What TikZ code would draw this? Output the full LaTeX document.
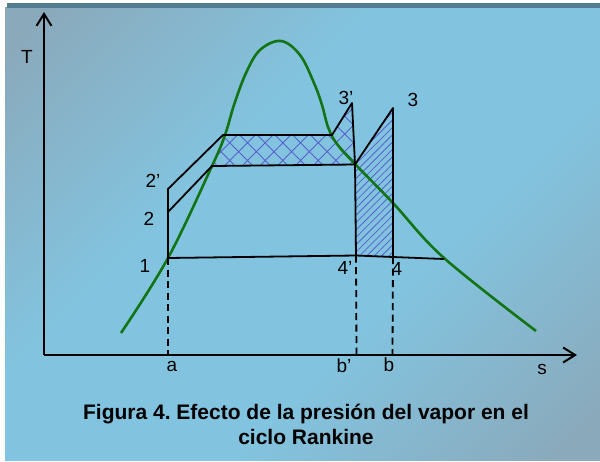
\documentclass[tikz,border=0pt]{standalone}
\usepackage{fontspec}
\setmainfont{Liberation Sans}
\usetikzlibrary{arrows.meta,patterns.meta}
\definecolor{bgGray}{RGB}{138,170,188}
\definecolor{bgBlue}{RGB}{130,196,224}
\definecolor{bandDark}{RGB}{82,124,145}
\definecolor{domeGreen}{RGB}{18,116,18}
\definecolor{hatchBlue}{RGB}{88,96,205}
\pgfdeclareverticalshading{bgshade}{100bp}{color(0bp)=(bgGray); color(18bp)=(bgGray); color(40bp)=(bgBlue); color(60bp)=(bgBlue); color(82bp)=(bgGray); color(100bp)=(bgGray)}
\frenchspacing
\begin{document}
\begin{tikzpicture}[x=1pt, y=-1pt,
        cycleline/.style={draw, line width=1.8pt, line join=round},
        dome/.style={draw=domeGreen, line width=2.6pt},
        axis/.style={draw, line width=2pt, -{Straight Barb[length=12pt, width=15pt]}},
        proj/.style={draw, line width=1.8pt, dash pattern=on 7pt off 4.5pt},
        lbl/.style={font=\fontsize{19}{21}\selectfont},
        every node/.style={inner sep=0pt}]
    \useasboundingbox (0,0) rectangle (600,461);
    % background
    \fill[white] (0,0) rectangle (600,461);
    \shade[shading=bgshade, shading angle=45] (5,7) rectangle (600,460);
    \fill[bandDark] (7,3) rectangle (600,7.5);

    % state points
    \coordinate (o) at (44,355);
    \coordinate (tend) at (44,12);
    \coordinate (send) at (577,355);
    \coordinate (p1) at (168,258);
    \coordinate (p2) at (168,212);
    \coordinate (p2p) at (168,189);
    \coordinate (liq) at (212,166);
    \coordinate (liqp) at (223,135);
    \coordinate (vapp) at (332,135);
    \coordinate (p3p) at (352,103);
    \coordinate (vap) at (355,164.5);
    \coordinate (p3) at (393,108);
    \coordinate (p4p) at (356,255.5);
    \coordinate (p4) at (393,257);
    \coordinate (cond) at (444,259);
    \coordinate (sa) at (168,355);
    \coordinate (sbp) at (356.5,355);
    \coordinate (sb) at (392.5,355);

    % hatched areas
    \path[pattern={Hatch[angle=45, distance=12.5pt, line width=0.9pt]}, pattern color=hatchBlue]
        (liq) -- (liqp) -- (vapp) -- (p3p) -- (vap) -- cycle;
    \path[pattern={Lines[angle=45, distance=5.2pt, line width=0.8pt]}, pattern color=hatchBlue]
        (vap) -- (p3) -- (p4) -- (p4p) -- cycle;

    % saturation dome
    \draw[dome] plot[smooth, tension=0.6] coordinates {(121,333) (168,258) (212,166)
        (225,135) (234,105) (246,73) (260,50) (281,41) (300,55)
        (314,83) (322,105) (328,127) (337,144) (355,164) (393,203) (444,258) (536,331)};

    % cycles
    \draw[cycleline] (p1) -- (p2p) -- (liqp) -- (vapp) -- (p3p) -- (vap) -- (p4p);
    \draw[cycleline] (p2) -- (liq) -- (vap) -- (p3) -- (p4);
    \draw[cycleline] (p1) -- (p4p) -- (p4) -- (cond);

    % projections
    \draw[proj] (p1) -- (sa);
    \draw[proj] (p4p) -- (sbp);
    \draw[proj] (p4) -- (sb);

    % axes
    \draw[axis] (o) -- (tend);
    \draw[axis] (o) -- (send);

    \node[lbl] (tlab) at (27,57) {T};
    \node[lbl] (slab) at (542,369) {s};
    \node[lbl] (l1) at (145,266) {1};
    \node[lbl] (l2) at (149,219) {2};
    \node[lbl] (l2p) at (153,181) {2’};
    \node[lbl] (l3p) at (346,98) {3’};
    \node[lbl] (l3) at (413,100) {3};
    \node[lbl] (l4p) at (345,268) {4’};
    \node[lbl] (l4) at (397,269) {4};
    \node[lbl] (la) at (172,366) {a};
    \node[lbl] (lbp) at (344,366) {b’};
    \node[lbl] (lb) at (389,365) {b};

    \node[font=\bfseries\fontsize{21}{25}\selectfont, align=center] (caption) at (306,424)
        {Figura 4. Efecto de la presión del vapor en el\\ciclo Rankine};
\end{tikzpicture}
\end{document}
